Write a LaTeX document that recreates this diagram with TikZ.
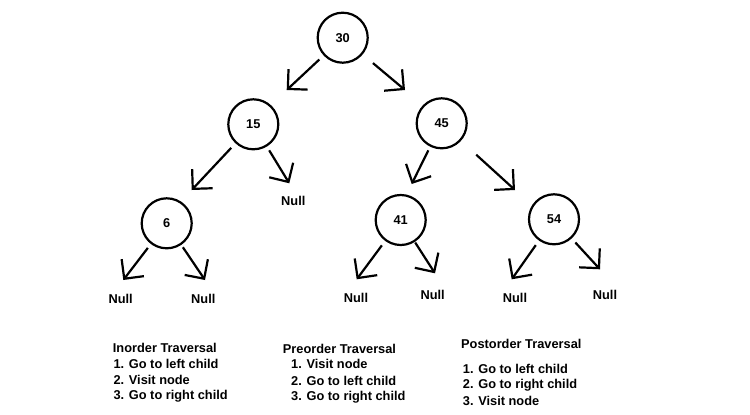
\documentclass[tikz,border=0pt]{standalone}
\usepackage{fontspec}
\setmainfont{Liberation Sans}
\usetikzlibrary{arrows.meta}
\begin{document}
\begin{tikzpicture}[x=1pt,y=-1pt,
  tnode/.style={circle,draw,line width=2.2pt,minimum size=50pt,inner sep=0pt,outer sep=0pt,font=\fontsize{12.8}{15}\selectfont\bfseries},
  arr/.style={line width=2.2pt,-{Straight Barb[length=14pt,width=28pt]}},
  nul/.style={font=\fontsize{12.8}{15}\selectfont\bfseries,anchor=base,inner sep=0pt},
  txt/.style={font=\fontsize{12.8}{15}\selectfont\bfseries,anchor=base west,inner sep=0pt}]
\fill[white] (0,0) rectangle (750,415);
\useasboundingbox (0,0) rectangle (750,415);

% tree nodes
\node[tnode] (n30) at (342.7,37.7) {30};
\node[tnode] (n15) at (253.3,124.3) {15};
\node[tnode] (n45) at (441.7,123.3) {45};
\node[tnode] (n6)  at (166.7,223.3) {6};
\node[tnode] (n41) at (400.7,220) {41};
\node[tnode] (n54) at (554,219.3) {54};

% null labels
\node[nul] (z1) at (120.7,303.9) {Null};
\node[nul] (z2) at (203.3,303.9) {Null};
\node[nul] (z3) at (293.3,205.3) {Null};
\node[nul] (z4) at (356,302.9) {Null};
\node[nul] (z5) at (432.7,299.6) {Null};
\node[nul] (z6) at (515,302.9) {Null};
\node[nul] (z7) at (605,299.6) {Null};

% arrow tips
\coordinate (t1) at (286.7,90);
\coordinate (t2) at (405,90);
\coordinate (t3) at (191.7,190);
\coordinate (t4) at (289.3,183.3);
\coordinate (t5) at (411.7,184);
\coordinate (t6) at (515,190);
\coordinate (t7) at (123.3,280);
\coordinate (t8) at (205,280);
\coordinate (t9) at (356.7,279.3);
\coordinate (t10) at (435,273.3);
\coordinate (t11) at (511.7,279.3);
\coordinate (t12) at (600,269.3);

\draw[arr,shorten <=7pt] (n30) -- (t1);
\draw[arr,shorten <=14.5pt] (n30) -- (t2);
\draw[arr,shorten <=7.3pt] (n15) -- (t3);
\draw[arr,shorten <=5.5pt] (n15) -- (t4);
\draw[arr,shorten <=5.2pt] (n45) -- (t5);
\draw[arr,shorten <=21.7pt] (n45) -- (t6);
\draw[arr,shorten <=6pt] (n6) -- (t7);
\draw[arr,shorten <=3.9pt] (n6) -- (t8);
\draw[arr,shorten <=6.6pt] (n41) -- (t9);
\draw[arr,shorten <=1.8pt] (n41) -- (t10);
\draw[arr,shorten <=6.6pt] (n54) -- (t11);
\draw[arr,shorten <=6.5pt] (n54) -- (t12);

% traversal texts
\node[txt] (i0) at (112.7,352) {Inorder Traversal};
\node[txt] (i1) at (113.3,368) {1. Go to left child};
\node[txt] (i2) at (113.3,384.6) {2. Visit node};
\node[txt] (i3) at (113.3,399.6) {3. Go to right child};

\node[txt] (p0) at (282.7,353.6) {Preorder Traversal};
\node[txt] (p1) at (291,368.9) {1. Visit node};
\node[txt] (p2) at (291,385.3) {2. Go to left child};
\node[txt] (p3) at (291,400.6) {3. Go to right child};

\node[txt] (q0) at (461,348.6) {Postorder Traversal};
\node[txt] (q1) at (462.7,373.9) {1. Go to left child};
\node[txt] (q2) at (462.7,388.9) {2. Go to right child};
\node[txt] (q3) at (462.7,405.3) {3. Visit node};
\end{tikzpicture}
\end{document}
